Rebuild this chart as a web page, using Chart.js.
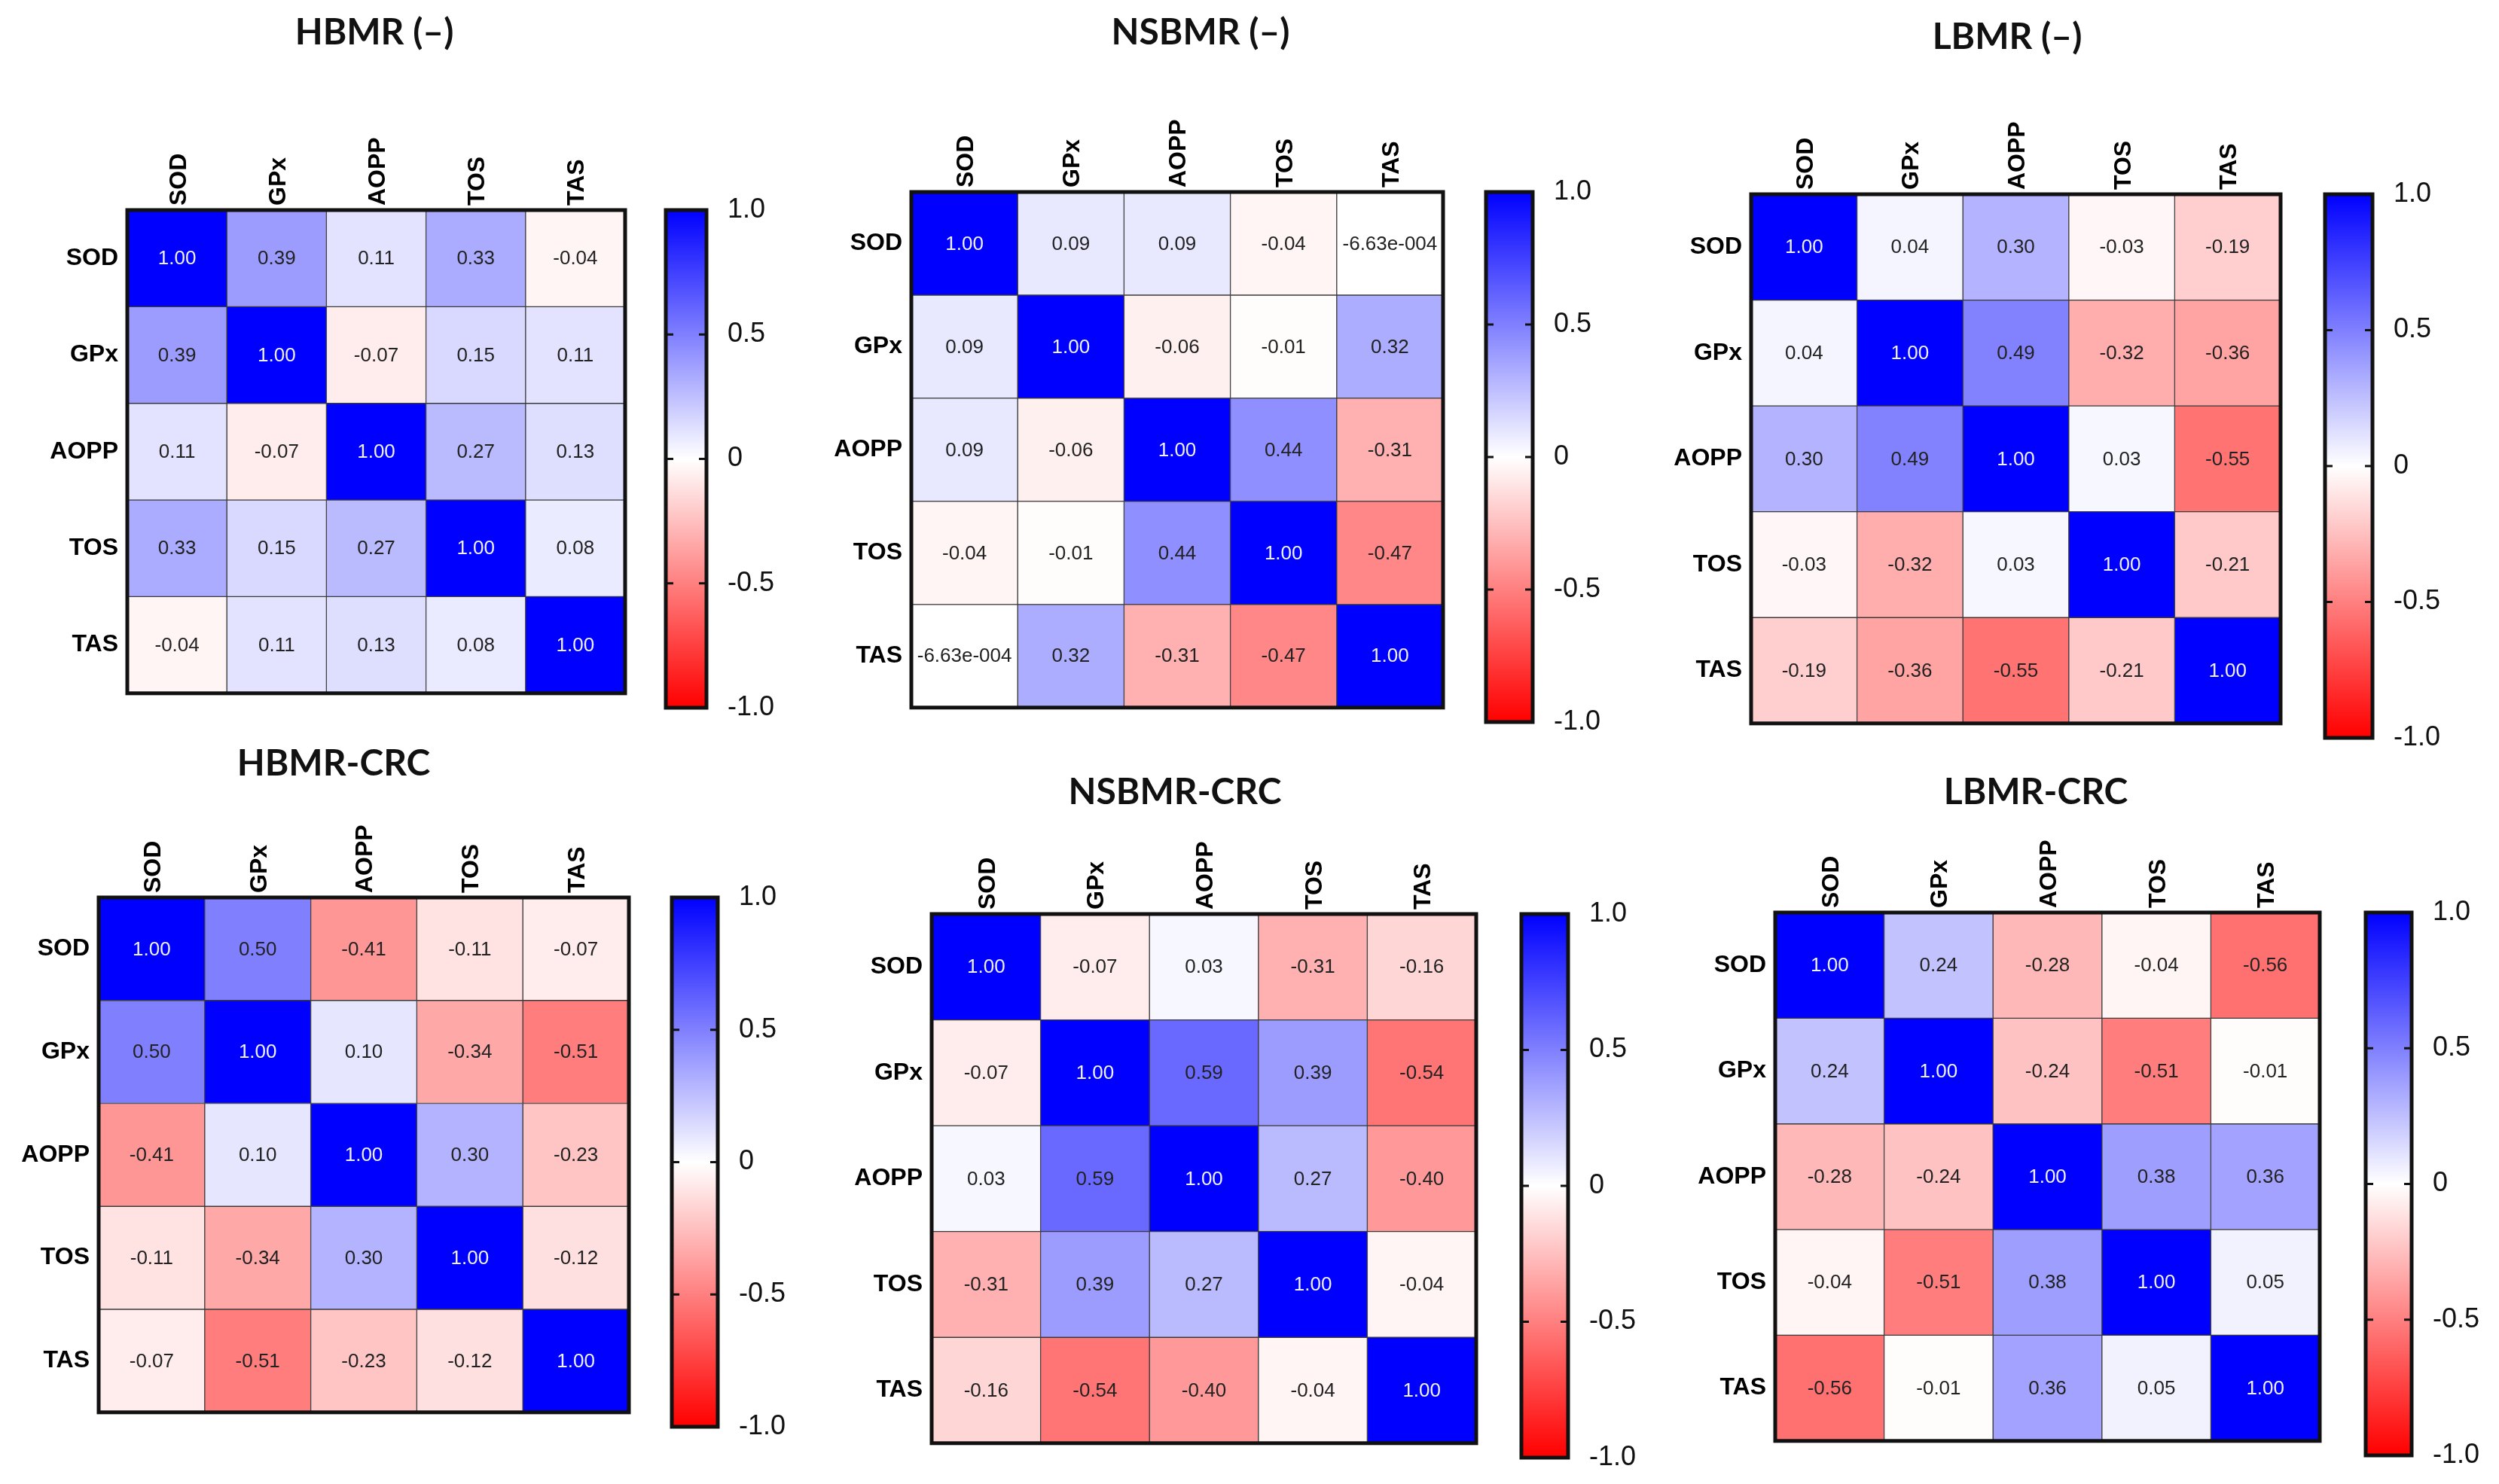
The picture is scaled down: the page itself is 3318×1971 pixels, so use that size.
<!DOCTYPE html>
<html>
<head>
<meta charset="utf-8">
<title>Correlation heatmaps</title>
<script src="https://cdn.jsdelivr.net/npm/chart.js@4.4.0/dist/chart.umd.min.js"></script>
<style>
    html, body { margin: 0; padding: 0; background: #fff; }
    #page { position: relative; width: 3318px; height: 1971px; overflow: hidden; background: #fff; }
    #page canvas { position: absolute; }
</style>
</head>
<body>
<div id="page"></div>
<script>
// markers (rows and columns of every matrix)
const markers = ['SOD', 'GPx', 'AOPP', 'TOS', 'TAS'];

// correlation matrices, read row by row
const hbmrNeg = [
    [1.00, 0.39, 0.11, 0.33, -0.04],
    [0.39, 1.00, -0.07, 0.15, 0.11],
    [0.11, -0.07, 1.00, 0.27, 0.13],
    [0.33, 0.15, 0.27, 1.00, 0.08],
    [-0.04, 0.11, 0.13, 0.08, 1.00]
];
const nsbmrNeg = [
    [1.00, 0.09, 0.09, -0.04, -0.000663],
    [0.09, 1.00, -0.06, -0.01, 0.32],
    [0.09, -0.06, 1.00, 0.44, -0.31],
    [-0.04, -0.01, 0.44, 1.00, -0.47],
    [-0.000663, 0.32, -0.31, -0.47, 1.00]
];
const lbmrNeg = [
    [1.00, 0.04, 0.30, -0.03, -0.19],
    [0.04, 1.00, 0.49, -0.32, -0.36],
    [0.30, 0.49, 1.00, 0.03, -0.55],
    [-0.03, -0.32, 0.03, 1.00, -0.21],
    [-0.19, -0.36, -0.55, -0.21, 1.00]
];
const hbmrCrc = [
    [1.00, 0.50, -0.41, -0.11, -0.07],
    [0.50, 1.00, 0.10, -0.34, -0.51],
    [-0.41, 0.10, 1.00, 0.30, -0.23],
    [-0.11, -0.34, 0.30, 1.00, -0.12],
    [-0.07, -0.51, -0.23, -0.12, 1.00]
];
const nsbmrCrc = [
    [1.00, -0.07, 0.03, -0.31, -0.16],
    [-0.07, 1.00, 0.59, 0.39, -0.54],
    [0.03, 0.59, 1.00, 0.27, -0.40],
    [-0.31, 0.39, 0.27, 1.00, -0.04],
    [-0.16, -0.54, -0.40, -0.04, 1.00]
];
const lbmrCrc = [
    [1.00, 0.24, -0.28, -0.04, -0.56],
    [0.24, 1.00, -0.24, -0.51, -0.01],
    [-0.28, -0.24, 1.00, 0.38, 0.36],
    [-0.04, -0.51, 0.38, 1.00, 0.05],
    [-0.56, -0.01, 0.36, 0.05, 1.00]
];

const panelTitles = ['HBMR (–)', 'NSBMR (–)', 'LBMR (–)', 'HBMR-CRC', 'NSBMR-CRC', 'LBMR-CRC'];
const panelData = [hbmrNeg, nsbmrNeg, lbmrNeg, hbmrCrc, nsbmrCrc, lbmrCrc];

// colour bar scale
const barTicks = [-1, -0.5, 0, 0.5, 1];
const barTickLabels = ['-1.0', '-0.5', '0', '0.5', '1.0'];
const barMarkTicks = [-0.5, 0, 0.5];

// page layout in pixels: grid box [left, top, right, bottom], colour bar [left, right], title centre
const panelBoxes = [
    { grid: [169, 279, 830, 940], bar: [884, 938], title: [497, 44] },
    { grid: [1210, 255, 1916, 959], bar: [1973, 2035], title: [1594, 44] },
    { grid: [2325, 258, 3028, 980], bar: [3087, 3150], title: [2665, 50] },
    { grid: [131, 1192, 835, 1895], bar: [892, 953], title: [443, 1015] },
    { grid: [1237, 1214, 1960, 1936], bar: [2020, 2082], title: [1560, 1053] },
    { grid: [2357, 1212, 3080, 1933], bar: [3141, 3202], title: [2703, 1053] }
];

const page = document.getElementById('page');
const sans = "'Liberation Sans', Arial, sans-serif";
Chart.defaults.font.family = sans;

// blue (1) - white (0) - red (-1)
function corrColor(v) {
    if (v >= 0) {
        const c = Math.round(255 * (1 - v));
        return `rgb(${c},${c},255)`;
    }
    const c = Math.round(255 * (1 + v));
    return `rgb(255,${c},${c})`;
}

// GraphPad style numbers, tiny ones in e-notation
function fmtCorr(v) {
    if (v !== 0 && Math.abs(v) < 0.005) {
        const [m, e] = v.toExponential(2).split('e');
        const digits = e.replace(/[+-]/, '').padStart(3, '0');
        return `${m}e${e[0] === '-' ? '-' : ''}${digits}`;
    }
    return v.toFixed(2);
}

function addCanvas(left, top, w, h) {
    const canvas = document.createElement('canvas');
    canvas.width = w;
    canvas.height = h;
    canvas.style.left = left + 'px';
    canvas.style.top = top + 'px';
    canvas.style.width = w + 'px';
    canvas.style.height = h + 'px';
    page.appendChild(canvas);
    return canvas;
}

// thick black frame round the plot area
const frame = {
    id: 'frame',
    afterDraw(chart, args, opts) {
        const a = chart.chartArea;
        const c = chart.ctx;
        c.save();
        c.strokeStyle = '#111';
        c.lineWidth = opts.width || 5;
        c.strokeRect(a.left, a.top, a.right - a.left, a.bottom - a.top);
        c.restore();
    }
};

// values written in the middle of every cell
const cellText = {
    id: 'cellText',
    afterDatasetsDraw(chart, args, opts) {
        const c = chart.ctx;
        c.save();
        c.font = `26px ${sans}`;
        c.textAlign = 'center';
        c.textBaseline = 'middle';
        chart.data.datasets.forEach((ds, j) => {
            chart.getDatasetMeta(j).data.forEach((bar, i) => {
                const { x, y, base } = bar.getProps(['x', 'y', 'base'], true);
                const v = opts.matrix[i][j];
                c.fillStyle = v >= 0.75 ? '#eef0ff' : '#222';
                c.fillText(fmtCorr(v), (x + base) / 2, y + 1);
            });
        });
        c.restore();
    }
};

// panel heading
const panelTitle = {
    id: 'panelTitle',
    afterDraw(chart, args, opts) {
        const c = chart.ctx;
        c.save();
        c.font = "bold 48px Lato, 'Open Sans', sans-serif";
        c.fillStyle = '#111';
        c.textAlign = 'center';
        c.textBaseline = 'middle';
        c.fillText(opts.text, opts.x, opts.y);
        c.restore();
    }
};

// short marks inside the colour bar at -0.5, 0, 0.5
const barMarks = {
    id: 'barMarks',
    afterDraw(chart) {
        const a = chart.chartArea;
        const y = chart.scales.y;
        const c = chart.ctx;
        c.save();
        c.strokeStyle = '#111';
        c.lineWidth = 3;
        barMarkTicks.forEach(v => {
            const py = y.getPixelForValue(v);
            c.beginPath();
            c.moveTo(a.left, py); c.lineTo(a.left + 10, py);
            c.moveTo(a.right - 10, py); c.lineTo(a.right, py);
            c.stroke();
        });
        c.restore();
    }
};

function barGradient(chart) {
    const a = chart.chartArea;
    if (!a) return '#fff';
    const g = chart.ctx.createLinearGradient(0, a.bottom, 0, a.top);
    g.addColorStop(0, corrColor(-1));
    g.addColorStop(0.5, corrColor(0));
    g.addColorStop(1, corrColor(1));
    return g;
}

// 📊 heatmap: stacked unit bars, one dataset per column
function makeHeatmap(box, matrix, title) {
    const [gl, gt, gr, gb] = box.grid;
    const padL = 200, padT = 300, padR = 12, padB = 12;
    const left = gl - padL, top = gt - padT;
    const canvas = addCanvas(left, top, gr - gl + padL + padR, gb - gt + padT + padB);
    const labelFont = { family: sans, size: 32, weight: 'bold' };

    const datasets = markers.map((col, j) => ({
        label: col,
        data: markers.map(() => 1),
        backgroundColor: matrix.map(row => corrColor(row[j])),
        borderColor: '#3a3a3a',
        borderWidth: 1,
        borderSkipped: false,
        barPercentage: 1,
        categoryPercentage: 1,
        xAxisID: 'x',
        yAxisID: 'y'
    }));

    new Chart(canvas, {
        type: 'bar',
        data: { labels: markers, datasets: datasets },
        options: {
            indexAxis: 'y',
            responsive: false,
            animation: false,
            devicePixelRatio: 1,
            layout: { padding: { left: 0, top: 0, right: padR, bottom: padB } },
            scales: {
                x: { type: 'linear', stacked: true, min: 0, max: markers.length, display: false },
                xTop: {
                    type: 'category',
                    position: 'top',
                    labels: markers,
                    offset: true,
                    grid: { display: false, drawTicks: false },
                    border: { display: false },
                    ticks: {
                        minRotation: 90, maxRotation: 90, autoSkip: false,
                        padding: 6, labelOffset: 41, color: '#000', font: labelFont
                    },
                    afterFit: s => { s.height = padT; }
                },
                y: {
                    type: 'category',
                    stacked: true,
                    offset: true,
                    grid: { display: false, drawTicks: false },
                    border: { display: false },
                    ticks: { padding: 12, color: '#000', font: labelFont },
                    afterFit: s => { s.width = padL; }
                }
            },
            plugins: {
                legend: { display: false },
                tooltip: { enabled: false },
                cellText: { matrix: matrix },
                frame: { width: 5 },
                panelTitle: { text: title, x: box.title[0] - left, y: box.title[1] - top }
            }
        },
        plugins: [cellText, frame, panelTitle]
    });
}

// 🎨 colour bar: one floating bar from -1 to 1 with a gradient fill
function makeColorBar(box) {
    const [gl, gt, gr, gb] = box.grid;
    const [bl, br] = box.bar;
    const padL = 6, padV = 30, axisW = 120;
    const canvas = addCanvas(bl - padL, gt - padV, br - bl + padL + axisW, gb - gt + 2 * padV);

    new Chart(canvas, {
        type: 'bar',
        data: {
            labels: [''],
            datasets: [{
                data: [[-1, 1]],
                backgroundColor: ctx => barGradient(ctx.chart),
                borderWidth: 0,
                barPercentage: 1,
                categoryPercentage: 1
            }]
        },
        options: {
            responsive: false,
            animation: false,
            devicePixelRatio: 1,
            layout: { padding: { left: padL, top: padV, right: 0, bottom: padV } },
            scales: {
                x: { display: false },
                y: {
                    position: 'right',
                    min: -1,
                    max: 1,
                    grid: { display: false, drawTicks: false },
                    border: { display: false },
                    afterBuildTicks: s => { s.ticks = barTicks.map(v => ({ value: v })); },
                    ticks: {
                        padding: 28,
                        color: '#111',
                        font: { family: sans, size: 36 },
                        callback: v => barTickLabels[barTicks.indexOf(v)]
                    },
                    // labels at the ends already fit in the canvas margin
                    afterFit: s => {
                        s.width = axisW;
                        s.paddingTop = 0;
                        s.paddingBottom = 0;
                    }
                }
            },
            plugins: {
                legend: { display: false },
                tooltip: { enabled: false },
                frame: { width: 5 }
            }
        },
        plugins: [frame, barMarks]
    });
}

// 🚀 draw all six panels
panelBoxes.forEach((box, k) => {
    makeHeatmap(box, panelData[k], panelTitles[k]);
    makeColorBar(box);
});
</script>
</body>
</html>
